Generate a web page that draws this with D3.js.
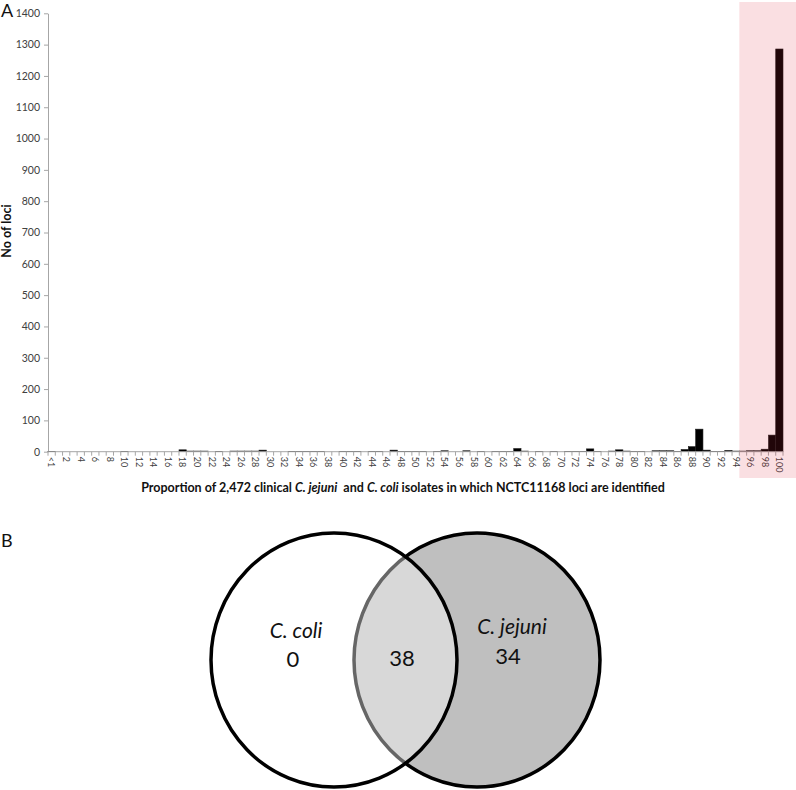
<!DOCTYPE html>
<html>
<head>
<meta charset="utf-8">
<script src="https://cdn.jsdelivr.net/npm/d3@7"></script>
<style>
  html, body { margin: 0; padding: 0; background: #fff; }
  svg { display: block; font-family: Lato, "Open Sans", sans-serif; }
</style>
</head>
<body>
<svg id="fig" width="796" height="790"></svg>
<script>
// Proportion bins (% of isolates in which a locus is found)
const categories = ["<1","1","2","3","4","5","6","7","8","9","10","11","12","13","14","15","16","17","18","19",
  "20","21","22","23","24","25","26","27","28","29","30","31","32","33","34","35","36","37","38","39",
  "40","41","42","43","44","45","46","47","48","49","50","51","52","53","54","55","56","57","58","59",
  "60","61","62","63","64","65","66","67","68","69","70","71","72","73","74","75","76","77","78","79",
  "80","81","82","83","84","85","86","87","88","89","90","91","92","93","94","95","96","97","98","99","100"];

// Number of loci in each bin
const lociCounts = [1,0,0,0,0,0,0,0,0,0, 1,0,0,0,0,0,0,0,6,2,
  2,2,0,1,0,2,2,2,2,5, 0,0,0,1,1,1,1,1,0,0,
  1,1,1,0,1,1,0,5,1,1, 1,1,0,1,3,0,0,3,0,1,
  0,1,1,1,10,2,0,1,0,1, 0,1,1,1,9,1,0,2,6,2,
  1,1,0,3,3,3,1,7,16,72, 5,1,1,4,2,2,3,3,8,53, 1286];

// Bins labelled on the x axis
const xTickLabels = ["<1","2","4","6","8","10","12","14","16","18","20","22","24","26","28","30","32","34","36","38",
  "40","42","44","46","48","50","52","54","56","58","60","62","64","66","68","70","72","74","76","78",
  "80","82","84","86","88","90","92","94","96","98","100"];
const yTickValues = [0,100,200,300,400,500,600,700,800,900,1000,1100,1200,1300,1400];

// First bin of the highlighted core band
const highlightFrom = "95";

// Venn diagram counts
const vennLabels = ["C. coli", "C. jejuni"];
const vennOnly = [0, 34];
const vennShared = 38;

const svg = d3.select("#fig");

// ---------- Panel A: histogram ----------
const plot = { left: 48, right: 783, top: 13.3, bottom: 451.7 };

const x = d3.scaleBand().domain(categories).range([plot.left, plot.right]).paddingInner(0).paddingOuter(0);
const y = d3.scaleLinear().domain([0, 1400]).range([plot.bottom, plot.top]);

svg.append("text")
  .attr("x", 1).attr("y", 17)
  .attr("font-size", 18).attr("fill", "#111")
  .text("A");

// y axis
const yAxis = svg.append("g")
  .attr("transform", `translate(${plot.left},0)`)
  .call(d3.axisLeft(y).tickValues(yTickValues).tickFormat(d3.format("d"))
    .tickSize(4).tickSizeOuter(0).tickPadding(4));
yAxis.select(".domain").attr("stroke", "#a6a6a6");
yAxis.selectAll(".tick line").attr("stroke", "#a6a6a6");
yAxis.selectAll(".tick text")
  .attr("font-family", "Lato, sans-serif").attr("font-size", 10.5).attr("fill", "#404040");

svg.append("text")
  .attr("transform", `translate(11,231) rotate(-90)`)
  .attr("text-anchor", "middle")
  .attr("font-size", 12.5).attr("font-weight", "bold").attr("fill", "#111")
  .text("No of loci");

// bars
svg.append("g").selectAll("rect")
  .data(categories.map((c, i) => ({ c, v: lociCounts[i] })).filter(d => d.v > 0))
  .join("rect")
  .attr("x", d => x(d.c))
  .attr("width", x.bandwidth())
  .attr("y", d => y(d.v))
  .attr("height", d => y(0) - y(d.v))
  .attr("fill", "#000")
  .attr("stroke", "#1a1a1a")
  .attr("stroke-width", 0.6);

// x axis: line, boundary ticks and rotated labels
const xAxis = svg.append("g").attr("transform", `translate(0,${plot.bottom})`);
xAxis.append("line")
  .attr("x1", plot.left).attr("x2", plot.right)
  .attr("stroke", "#a6a6a6");
xAxis.selectAll("line.tk")
  .data(categories.concat(["end"]))
  .join("line").attr("class", "tk")
  .attr("x1", d => d === "end" ? plot.right : x(d))
  .attr("x2", d => d === "end" ? plot.right : x(d))
  .attr("y1", 0).attr("y2", 4)
  .attr("stroke", "#a6a6a6");
xAxis.selectAll("text")
  .data(xTickLabels)
  .join("text")
  .attr("transform", d => `translate(${x(d) + x.bandwidth() / 2},5) rotate(90)`)
  .attr("dy", "0.35em")
  .attr("font-size", 9).attr("fill", "#404040")
  .text(d => d);

// x axis title with italic species names
const xt = svg.append("text")
  .attr("x", 403).attr("y", 492)
  .attr("text-anchor", "middle")
  .attr("font-size", 12.5).attr("font-weight", "bold").attr("fill", "#111")
  .attr("xml:space", "preserve");
xt.append("tspan").text("Proportion of 2,472 clinical ");
xt.append("tspan").attr("font-style", "italic").text("C. jejuni");
xt.append("tspan").text("  and ");
xt.append("tspan").attr("font-style", "italic").text("C. coli");
xt.append("tspan").text(" isolates in which NCTC11168 loci are identified");

// translucent red band over the ≥95% bins
svg.append("rect")
  .attr("x", x(highlightFrom))
  .attr("y", 2)
  .attr("width", 796 - x(highlightFrom))
  .attr("height", 476)
  .attr("fill", "rgb(220,40,60)")
  .attr("fill-opacity", 0.15);

// ---------- Panel B: Venn diagram ----------
svg.append("text")
  .attr("x", 1).attr("y", 547)
  .attr("font-size", 18).attr("fill", "#111")
  .text("B");

const venn = { cy: 660, rx: 123, ry: 127, leftCx: 334, rightCx: 477 };

// right set (C. jejuni), filled grey
svg.append("ellipse")
  .attr("cx", venn.rightCx).attr("cy", venn.cy)
  .attr("rx", venn.rx).attr("ry", venn.ry)
  .attr("fill", "#bfbfbf").attr("stroke", "#000").attr("stroke-width", 3.5);

// left set (C. coli), translucent white so the overlap reads lighter
svg.append("ellipse")
  .attr("cx", venn.leftCx).attr("cy", venn.cy)
  .attr("rx", venn.rx).attr("ry", venn.ry)
  .attr("fill", "#fff").attr("fill-opacity", 0.4)
  .attr("stroke", "#000").attr("stroke-width", 3.5);

const vennText = svg.append("g").attr("fill", "#111").attr("text-anchor", "middle");
vennText.append("text").attr("x", 296).attr("y", 638)
  .attr("font-size", 21).attr("font-style", "italic").text(vennLabels[0]);
vennText.append("text").attr("x", 293).attr("y", 667)
  .attr("font-size", 22).text(vennOnly[0]);
vennText.append("text").attr("x", 402).attr("y", 666)
  .attr("font-size", 22).text(vennShared);
vennText.append("text").attr("x", 512).attr("y", 634)
  .attr("font-size", 21).attr("font-style", "italic").text(vennLabels[1]);
vennText.append("text").attr("x", 508).attr("y", 664)
  .attr("font-size", 22).text(vennOnly[1]);
</script>
</body>
</html>
